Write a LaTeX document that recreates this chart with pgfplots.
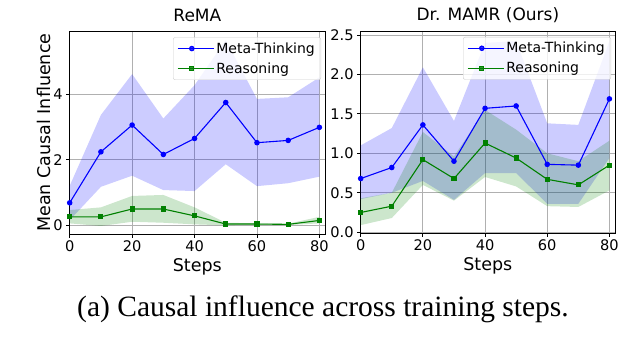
\documentclass[border=0pt]{standalone}
\usepackage{pgfplots}
\pgfplotsset{compat=1.18}
\usepackage{fontspec}
\setmainfont{DejaVu Sans}
\newfontfamily\capfont{Liberation Serif}
\definecolor{mblue}{RGB}{0,0,255}
\definecolor{mgreen}{RGB}{0,128,0}
\definecolor{mgrid}{RGB}{176,176,176}
\pgfplotsset{
  common/.style={
    scale only axis,
    anchor=south west,
    xmin=0, xmax=81.8,
    xtick={0,20,40,60,80},
    tick pos=left,
    tick align=outside,
    major tick length=3.5pt,
    tick style={black, line width=0.8pt},
    axis line style={black, line width=0.8pt},
    grid=major,
    grid style={mgrid, line width=0.8pt},
    /pgf/number format/assume math mode=true,
    tick label style={font=\fontsize{14.6}{17}\selectfont},
    xlabel={Steps},
    xlabel style={font=\fontsize{17.5}{20}\selectfont, at={(axis description cs:0.5,0)}, anchor=center, yshift=-33pt},
    title style={font=\fontsize{17}{20}\selectfont, at={(0.5,1)}, anchor=base, yshift=4pt},
    legend style={font=\fontsize{14}{17}\selectfont, at={(1,1)}, xshift=-4pt, yshift=-6pt, anchor=north east,
      draw={rgb,255:red,204;green,204;blue,204}, rounded corners=2pt, fill=white, fill opacity=0.8, text opacity=1,
      inner xsep=4pt, inner ysep=3pt, row sep=4pt},
    legend cell align=left,
    legend image code/.code={\path (0pt,0pt) -- (36pt,0pt);\draw[mark repeat=2,mark phase=2] plot coordinates {(0pt,0pt)(14pt,0pt)(28pt,0pt)};},
  },
  mt/.style={mblue, line width=1.1pt, mark=*, mark size=2.2pt, mark options={solid, fill=mblue}},
  rs/.style={mgreen, line width=1.1pt, mark=square*, mark size=2pt, mark options={solid, fill=mgreen}},
}
\begin{document}
\begin{tikzpicture}
\useasboundingbox (0,0) rectangle (626pt,354pt);
% ---------------- Left: ReMA ----------------
\begin{axis}[common,
  at={(69.7pt,120pt)}, width=255.3pt, height=202.7pt,
  ymin=-0.275, ymax=5.93,
  ytick={0,2,4},
  title={ReMA},
  ylabel={Mean Causal Influence},
  ylabel style={font=\fontsize{17.5}{20}\selectfont, at={(axis description cs:-0.1026,0.5)}, anchor=center, rotate=0},
]
\addplot[draw=none, fill=mblue, fill opacity=0.2, forget plot] coordinates {
 (0,1.20) (10,3.37) (20,4.62) (30,3.26) (40,4.28) (50,5.66) (60,3.86) (70,3.91) (80,4.52)
 (80,1.48) (70,1.28) (60,1.19) (50,1.86) (40,1.04) (30,1.07) (20,1.51) (10,1.17) (0,0.15)} -- cycle;
\addplot[draw=none, fill=mgreen, fill opacity=0.2, forget plot] coordinates {
 (0,0.46) (10,0.54) (20,0.89) (30,0.92) (40,0.54) (50,0.07) (60,0.05) (70,0.04) (80,0.25)
 (80,0.05) (70,0.00) (60,0.00) (50,-0.01) (40,0.02) (30,0.07) (20,0.10) (10,-0.03) (0,0.05)} -- cycle;
\addplot[mt] coordinates {(0,0.68) (10,2.24) (20,3.06) (30,2.16) (40,2.65) (50,3.75) (60,2.52) (70,2.59) (80,2.99)};
\addlegendentry{Meta-Thinking}
\addplot[rs] coordinates {(0,0.25) (10,0.25) (20,0.49) (30,0.49) (40,0.28) (50,0.03) (60,0.03) (70,0.02) (80,0.14)};
\addlegendentry{Reasoning}
\end{axis}
% ---------------- Right: Dr. MAMR ----------------
\begin{axis}[common,
  at={(360.7pt,121pt)}, width=254.3pt, height=202pt,
  ymin=-0.01, ymax=2.55,
  ytick={0,0.5,1,1.5,2,2.5},
  yticklabel style={/pgf/number format/fixed, /pgf/number format/fixed zerofill, /pgf/number format/precision=1},
  title={Dr. MAMR (Ours)},
]
\addplot[draw=none, fill=mblue, fill opacity=0.2, forget plot] coordinates {
 (0,1.10) (10,1.32) (20,2.09) (30,1.41) (40,2.40) (50,2.42) (60,1.38) (70,1.36) (80,2.42)
 (80,0.94) (70,0.36) (60,0.36) (50,0.75) (40,0.75) (30,0.41) (20,0.65) (10,0.50) (0,0.42)} -- cycle;
\addplot[draw=none, fill=mgreen, fill opacity=0.2, forget plot] coordinates {
 (0,0.43) (10,0.50) (20,1.27) (30,0.96) (40,1.55) (50,1.30) (60,1.00) (70,0.90) (80,1.16)
 (80,0.53) (70,0.32) (60,0.33) (50,0.58) (40,0.70) (30,0.40) (20,0.60) (10,0.18) (0,0.09)} -- cycle;
\addplot[mt] coordinates {(0,0.68) (10,0.82) (20,1.36) (30,0.90) (40,1.57) (50,1.60) (60,0.86) (70,0.85) (80,1.69)};
\addlegendentry{Meta-Thinking}
\addplot[rs] coordinates {(0,0.25) (10,0.33) (20,0.92) (30,0.68) (40,1.13) (50,0.94) (60,0.67) (70,0.60) (80,0.85)};
\addlegendentry{Reasoning}
\end{axis}
\node[font=\capfont\fontsize{29.5}{34}\selectfont, anchor=base] at (323pt,38pt) {(a) Causal influence across training steps.};
\end{tikzpicture}
\end{document}
